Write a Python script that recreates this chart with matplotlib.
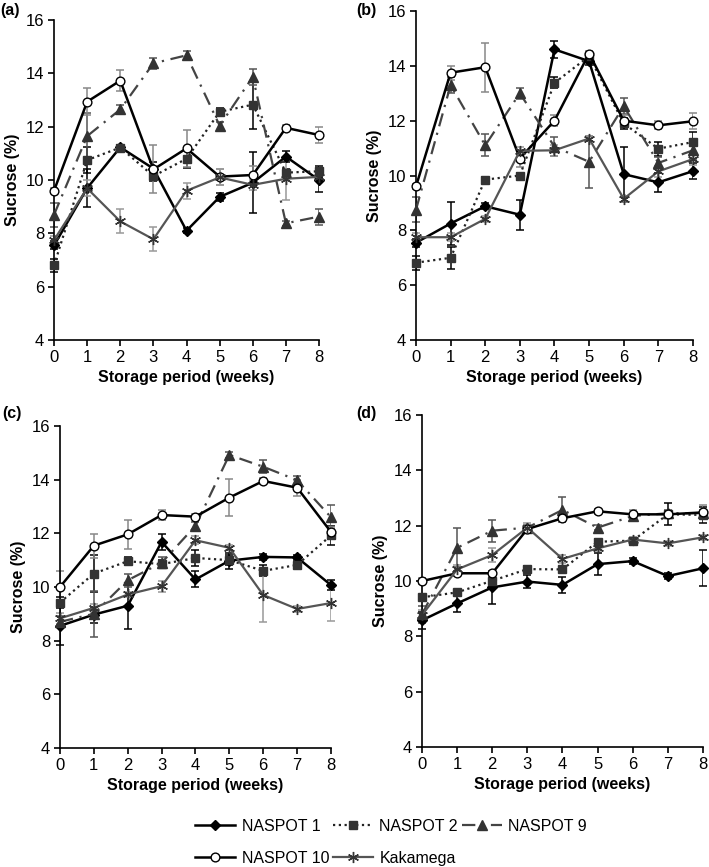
import matplotlib
matplotlib.use("Agg")
import matplotlib.pyplot as plt
from matplotlib.lines import Line2D
import numpy as np

plt.rcParams['font.family'] = ['Liberation Sans', 'DejaVu Sans']

weeks = [0, 1, 2, 3, 4, 5, 6, 7, 8]
names = ['NASPOT 1', 'NASPOT 2', 'NASPOT 9', 'NASPOT 10', 'Kakamega']

# panel (a)
a_n1 = [7.55, 9.7, 11.23, 10.43, 8.1, 9.37, 9.9, 10.88, 10.0]
a_n2 = [6.8, 10.75, 11.22, 10.15, 10.8, 12.56, 12.83, 10.28, 10.33]
a_n9 = [8.7, 11.65, 12.65, 14.38, 14.68, 12.04, 13.87, 8.38, 8.63]
a_n10 = [9.6, 12.94, 13.73, 10.4, 11.19, 10.13, 10.19, 11.96, 11.69]
a_kak = [7.75, 9.69, 8.45, 7.78, 9.6, 10.1, 9.82, 10.05, 10.12]
a_n1_err = [0.15, 0.7, 0.1, 0.25, 0.1, 0.15, 1.15, 0.2, 0.45]
a_n2_err = [0.25, 0.5, 0.1, 0.2, 0.35, 0.15, 0.9, 0.15, 0.2]
a_n9_err = [0.45, 0.85, 0.15, 0.2, 0.15, 0.15, 0.3, 0.1, 0.3]
a_n10_err = [0.1, 0.5, 0.4, 0.9, 0.7, 0.3, 0.35, 0.1, 0.3]
a_kak_err = [0.15, 0.3, 0.45, 0.45, 0.3, 0.3, 0.2, 0.8, 0.15]

# panel (b)
b_n1 = [7.55, 8.25, 8.88, 8.57, 14.6, 14.17, 10.05, 9.75, 10.16]
b_n2 = [6.82, 7.0, 9.85, 10.0, 13.38, 14.35, 11.9, 10.98, 11.22]
b_n9 = [8.75, 13.3, 11.1, 13.0, 11.05, 10.5, 12.53, 10.46, 10.92]
b_n10 = [9.6, 13.75, 13.95, 10.62, 12.0, 14.45, 12.0, 11.83, 11.98]
b_kak = [7.75, 7.75, 8.42, 10.9, 10.92, 11.35, 9.15, 10.15, 10.6]
b_n1_err = [0.15, 0.8, 0.1, 0.55, 0.3, 0.15, 1.0, 0.35, 0.3]
b_n2_err = [0.25, 0.4, 0.1, 0.1, 0.2, 0.1, 0.2, 0.25, 0.35]
b_n9_err = [0.45, 0.3, 0.4, 0.2, 0.35, 0.95, 0.3, 0.2, 0.3]
b_n10_err = [0.1, 0.25, 0.9, 0.3, 0.2, 0.1, 0.2, 0.15, 0.3]
b_kak_err = [0.15, 0.15, 0.1, 0.15, 0.2, 0.1, 0.1, 0.2, 0.2]

# panel (c)
c_n1 = [8.55, 8.97, 9.3, 11.68, 10.28, 10.98, 11.12, 11.1, 10.07]
c_n2 = [9.42, 10.5, 10.96, 10.85, 11.08, 11.0, 10.6, 10.82, 11.92]
c_n9 = [8.7, 9.0, 10.25, 10.9, 12.28, 14.92, 14.48, 13.98, 12.6]
c_n10 = [10.0, 11.54, 11.96, 12.68, 12.62, 13.33, 13.95, 13.7, 12.05]
c_kak = [8.83, 9.22, 9.72, 10.03, 11.74, 11.46, 9.7, 9.18, 9.4]
c_n1_err = [0.7, 0.3, 0.85, 0.3, 0.3, 0.3, 0.1, 0.1, 0.2]
c_n2_err = [0.2, 0.7, 0.15, 0.15, 0.3, 0.2, 0.2, 0.1, 0.35]
c_n9_err = [0.2, 0.85, 0.25, 0.2, 0.15, 0.1, 0.25, 0.15, 0.45]
c_n10_err = [0.6, 0.45, 0.55, 0.2, 0.1, 0.7, 0.1, 0.3, 0.2]
c_kak_err = [0.2, 0.15, 0.1, 0.2, 0.15, 0.1, 1.0, 0.1, 0.65]

# panel (d)
d_n1 = [8.58, 9.19, 9.77, 9.98, 9.86, 10.61, 10.72, 10.18, 10.46]
d_n2 = [9.41, 9.59, 10.01, 10.43, 10.42, 11.42, 11.46, 12.41, 12.39]
d_n9 = [8.8, 11.2, 11.82, 11.93, 12.57, 11.93, 12.35, 12.45, 12.45]
d_n10 = [10.0, 10.28, 10.28, 11.88, 12.27, 12.52, 12.41, 12.41, 12.48]
d_kak = [8.77, 10.42, 10.94, 11.93, 10.8, 11.18, 11.5, 11.36, 11.58]
d_n1_err = [0.3, 0.3, 0.6, 0.25, 0.3, 0.4, 0.1, 0.1, 0.65]
d_n2_err = [0.1, 0.1, 0.1, 0.1, 0.1, 0.1, 0.1, 0.4, 0.3]
d_n9_err = [0.3, 0.7, 0.4, 0.1, 0.45, 0.1, 0.1, 0.1, 0.1]
d_n10_err = [0.1, 0.1, 0.1, 0.15, 0.1, 0.1, 0.15, 0.1, 0.25]
d_kak_err = [0.2, 0.15, 0.25, 0.15, 0.15, 0.1, 0.1, 0.1, 0.1]

panels = [
    ('(a)', [a_n1, a_n2, a_n9, a_n10, a_kak], [a_n1_err, a_n2_err, a_n9_err, a_n10_err, a_kak_err]),
    ('(b)', [b_n1, b_n2, b_n9, b_n10, b_kak], [b_n1_err, b_n2_err, b_n9_err, b_n10_err, b_kak_err]),
    ('(c)', [c_n1, c_n2, c_n9, c_n10, c_kak], [c_n1_err, c_n2_err, c_n9_err, c_n10_err, c_kak_err]),
    ('(d)', [d_n1, d_n2, d_n9, d_n10, d_kak], [d_n1_err, d_n2_err, d_n9_err, d_n10_err, d_kak_err]),
]

# line style per series
styles = [
    dict(color='black', ls='-', lw=1.8, marker='D', ms=5.5, mfc='black', mec='black'),
    dict(color='#222222', ls=(0, (1, 1.6)), lw=1.6, marker='s', ms=6, mfc='#333333', mec='#333333'),
    dict(color='#444444', ls=(0, (6, 3, 1, 3)), lw=1.6, marker='^', ms=7, mfc='#333333', mec='#333333'),
    dict(color='black', ls='-', lw=1.8, marker='o', ms=6.3, mfc='white', mec='black'),
    dict(color='#555555', ls='-', lw=1.6, marker=(6, 2, 0), ms=8, mfc='#333333', mec='#333333'),
]
err_colors = ['black', 'black', '#555555', '#888888', '#999999']

# axes positions in figure fractions
positions = [
    [0.0762, 0.6078, 0.3738, 0.369],
    [0.5867, 0.6078, 0.3907, 0.3795],
    [0.0846, 0.1373, 0.3822, 0.3714],
    [0.5952, 0.1384, 0.3963, 0.3829],
]
label_pos = [(0.0, 0.997), (0.503, 0.997), (0.003, 0.532), (0.503, 0.532)]

fig = plt.figure(figsize=(7.09, 8.67), dpi=100)

for (tag, series, errs), pos, lp in zip(panels, positions, label_pos):
    ax = fig.add_axes(pos)
    for ys, es, st, ec in zip(series, errs, styles, err_colors):
        ax.plot(weeks, ys, **st, zorder=3)
        ax.errorbar(weeks, ys, yerr=es, fmt='none', ecolor=ec, elinewidth=1.1,
                    capsize=3, capthick=1.1, zorder=2)
    ax.set_xlim(0, 8)
    ax.set_ylim(4, 16)
    ax.set_xticks(weeks)
    ax.set_yticks([4, 6, 8, 10, 12, 14, 16])
    ax.spines['top'].set_visible(False)
    ax.spines['right'].set_visible(False)
    ax.spines['left'].set_linewidth(1.2)
    ax.spines['bottom'].set_linewidth(1.2)
    ax.tick_params(direction='out', length=4, width=1.2, labelsize=12, pad=3)
    ax.set_xlabel('Storage period (weeks)', fontsize=11.5, fontweight='bold', labelpad=4)
    ax.set_ylabel('Sucrose (%)', fontsize=11.5, fontweight='bold', labelpad=4)
    for ln in ax.lines:
        ln.set_clip_on(False)
    fig.text(lp[0], lp[1], tag, fontsize=11.5, fontweight='bold', va='top', ha='left')

# legend filled column by column, so reorder to read row by row
handles = [Line2D([], [], **st) for st in styles]
order = [0, 3, 1, 4, 2]
fig.legend([handles[i] for i in order], [names[i] for i in order], ncol=3,
           loc='lower left', bbox_to_anchor=(0.262, -0.010),
           frameon=False, fontsize=11.5, handlelength=2.5, handletextpad=0.4,
           columnspacing=0.25, labelspacing=1.07, numpoints=1, borderaxespad=0.2)

fig.savefig('out.png', dpi=100)
